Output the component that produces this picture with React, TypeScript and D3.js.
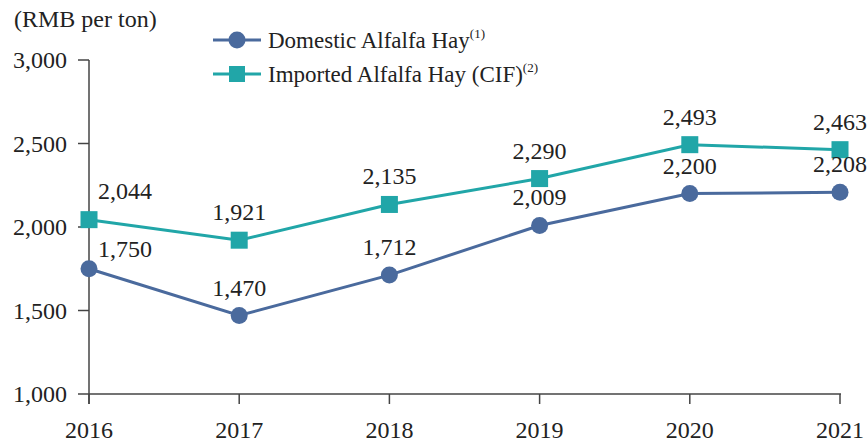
import React from "react";
import * as d3 from "d3";

const years = ["2016", "2017", "2018", "2019", "2020", "2021"];
const domestic = [1750, 1470, 1712, 2009, 2200, 2208];
const imported = [2044, 1921, 2135, 2290, 2493, 2463];
const yTicks = [1000, 1500, 2000, 2500, 3000];
const seriesNames = ["Domestic Alfalfa Hay", "Imported Alfalfa Hay (CIF)"];
const seriesNotes = ["(1)", "(2)"];

const W = 868;
const H = 443;
const FONT = "'Liberation Serif', 'Times New Roman', serif";
const C_DOM = "#4A6A9D";
const C_IMP = "#21A6A8";
const AX = "#444";
const FS = 24;

export default function App() {
  const x = d3.scalePoint<string>().domain(years).range([89, 840]);
  const y = d3.scaleLinear().domain([1000, 3000]).range([394, 60]);
  const line = d3
    .line<number>()
    .x((_, i) => x(years[i]) as number)
    .y((d) => y(d));
  const fmt = d3.format(",");

  const labelPos = (i: number, v: number, first: boolean) => {
    const px = x(years[i]) as number;
    const py = y(v);
    if (first) return { lx: px + 9, ly: py - 12, anchor: "start" };
    return { lx: px, ly: py - 20, anchor: "middle" };
  };

  return (
    <svg
      width={W}
      height={H}
      style={{ position: "fixed", left: 0, top: 0, background: "#fff" }}
      fontFamily={FONT}
    >
      <text x={14} y={27} fontSize={FS} fill="#222">
        (RMB per ton)
      </text>
      {/* y axis */}
      <line x1={89} x2={89} y1={60} y2={404} stroke={AX} strokeWidth={1.5} />
      {yTicks.map((t) => (
        <g key={t}>
          <line x1={78} x2={89} y1={y(t)} y2={y(t)} stroke={AX} strokeWidth={1.5} />
          <text x={67} y={y(t) + 8} fontSize={FS} textAnchor="end" fill="#222">
            {fmt(t)}
          </text>
        </g>
      ))}
      {/* x axis */}
      <line x1={89} x2={841} y1={394} y2={394} stroke={AX} strokeWidth={1.5} />
      {years.map((yr) => (
        <g key={yr}>
          <line x1={x(yr)} x2={x(yr)} y1={394} y2={404} stroke={AX} strokeWidth={1.5} />
          <text x={x(yr)} y={438} fontSize={FS} textAnchor="middle" fill="#222">
            {yr}
          </text>
        </g>
      ))}
      {/* lines */}
      <path d={line(domestic) || ""} fill="none" stroke={C_DOM} strokeWidth={3} />
      <path d={line(imported) || ""} fill="none" stroke={C_IMP} strokeWidth={3} />
      {domestic.map((v, i) => (
        <circle key={"d" + i} cx={x(years[i])} cy={y(v)} r={8.5} fill={C_DOM} />
      ))}
      {imported.map((v, i) => (
        <rect
          key={"m" + i}
          x={(x(years[i]) as number) - 8.5}
          y={y(v) - 8.5}
          width={17}
          height={17}
          fill={C_IMP}
        />
      ))}
      {domestic.map((v, i) => {
        const p = labelPos(i, v, i === 0);
        return (
          <text key={"dl" + i} x={p.lx} y={p.ly} fontSize={FS} textAnchor={p.anchor} fill="#222">
            {fmt(v)}
          </text>
        );
      })}
      {imported.map((v, i) => {
        const p = labelPos(i, v, i === 0);
        return (
          <text key={"il" + i} x={p.lx} y={i === 0 ? y(v) - 21 : p.ly} fontSize={FS} textAnchor={p.anchor} fill="#222">
            {fmt(v)}
          </text>
        );
      })}
      {/* legend */}
      {seriesNames.map((name, i) => {
        const ly = 40 + i * 34;
        const col = i === 0 ? C_DOM : C_IMP;
        return (
          <g key={name}>
            <line x1={213} x2={261} y1={ly} y2={ly} stroke={col} strokeWidth={3} />
            {i === 0 ? (
              <circle cx={237} cy={ly} r={8.5} fill={col} />
            ) : (
              <rect x={229} y={ly - 8} width={16} height={16} fill={col} />
            )}
            <text x={268} y={ly + 8} fontSize={23} fill="#222">
              {name}
              <tspan fontSize={13} dy={-10}>
                {seriesNotes[i]}
              </tspan>
            </text>
          </g>
        );
      })}
    </svg>
  );
}
